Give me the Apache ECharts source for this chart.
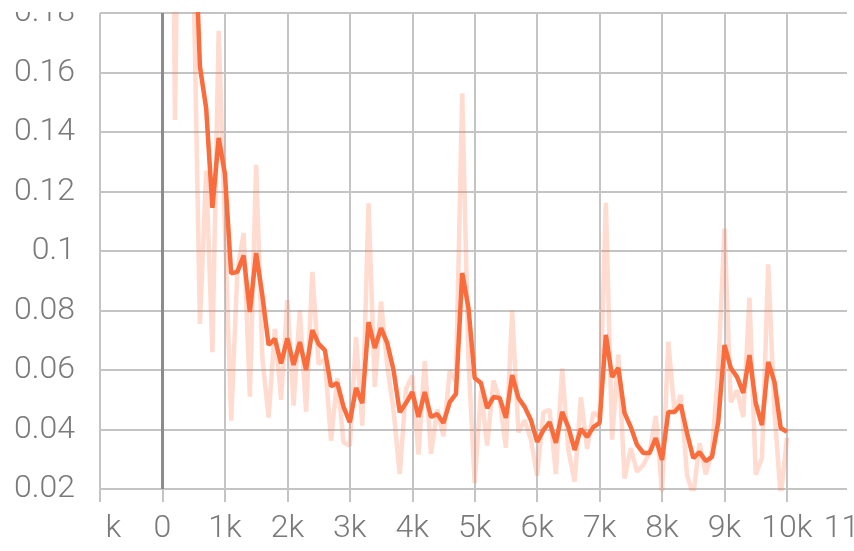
<!DOCTYPE html>
<html>
<head>
<meta charset="utf-8">
<style>
  html, body { margin: 0; padding: 0; background: #ffffff; }
  #chart { width: 854px; height: 551px; }
</style>
<script src="https://cdn.jsdelivr.net/npm/echarts@6/dist/echarts.min.js"></script>
</head>
<body>
<div id="chart"></div>
<script>
// Training steps (one point every 100 steps)
const steps = [
  100, 200, 300, 400, 500, 600, 700, 800, 900, 1000,
  1100, 1200, 1300, 1400, 1500, 1600, 1700, 1800, 1900, 2000,
  2100, 2200, 2300, 2400, 2500, 2600, 2700, 2800, 2900, 3000,
  3100, 3200, 3300, 3400, 3500, 3600, 3700, 3800, 3900, 4000,
  4100, 4200, 4300, 4400, 4500, 4600, 4700, 4800, 4900, 5000,
  5100, 5200, 5300, 5400, 5500, 5600, 5700, 5800, 5900, 6000,
  6100, 6200, 6300, 6400, 6500, 6600, 6700, 6800, 6900, 7000,
  7100, 7200, 7300, 7400, 7500, 7600, 7700, 7800, 7900, 8000,
  8100, 8200, 8300, 8400, 8500, 8600, 8700, 8800, 8900, 9000,
  9100, 9200, 9300, 9400, 9500, 9600, 9700, 9800, 9900, 10000
];

// Raw loss values (drawn faint)
const rawLoss = [
  0.42, 0.144, 0.30, 0.26, 0.19, 0.0755, 0.127, 0.066, 0.174, 0.108,
  0.043, 0.0935, 0.106, 0.051, 0.129, 0.064, 0.044, 0.0738, 0.050, 0.0835,
  0.048, 0.080, 0.046, 0.093, 0.062, 0.0636, 0.0362, 0.0572, 0.0356, 0.0346,
  0.071, 0.0413, 0.116, 0.0543, 0.083, 0.0613, 0.0465, 0.025, 0.0536, 0.058,
  0.0316, 0.063, 0.0318, 0.0467, 0.0377, 0.0597, 0.0562, 0.153, 0.0634, 0.022,
  0.053, 0.0346, 0.0565, 0.0501, 0.0339, 0.080, 0.039, 0.0431, 0.0366, 0.0245,
  0.0458, 0.0466, 0.025, 0.0605, 0.0331, 0.0225, 0.0508, 0.0335, 0.0457, 0.0443,
  0.1162, 0.0366, 0.0652, 0.0235, 0.0337, 0.0258, 0.0281, 0.0321, 0.0446, 0.0188,
  0.0695, 0.0459, 0.0516, 0.0247, 0.0178, 0.0354, 0.0249, 0.0329, 0.0601, 0.1075,
  0.0492, 0.0532, 0.0442, 0.0843, 0.0248, 0.0304, 0.0955, 0.046, 0.0173, 0.0372
];

// Smoothed loss values (bold line)
const smoothLoss = [
  0.42, 0.31, 0.29, 0.26, 0.22, 0.162, 0.148, 0.1145, 0.138, 0.126,
  0.0925, 0.093, 0.0985, 0.0795, 0.0993, 0.085, 0.0684, 0.0705, 0.0622, 0.0707,
  0.0617, 0.0694, 0.060, 0.0734, 0.0688, 0.0667, 0.0545, 0.0556, 0.0476, 0.0424,
  0.054, 0.0489, 0.0761, 0.0674, 0.0741, 0.069, 0.060, 0.0458, 0.0489, 0.0526,
  0.0442, 0.0526, 0.0442, 0.0452, 0.0422, 0.0492, 0.052, 0.0926, 0.0809, 0.0573,
  0.0556, 0.0472, 0.0509, 0.0506, 0.0439, 0.0583, 0.0506, 0.0476, 0.0432, 0.0358,
  0.0398, 0.0425, 0.0355, 0.0459, 0.0408, 0.0331, 0.0402, 0.0375, 0.0408, 0.0422,
  0.0718, 0.0577, 0.0607, 0.0455, 0.0408, 0.0348, 0.0321, 0.0321, 0.0371, 0.0298,
  0.0459, 0.0459, 0.0482, 0.0388, 0.0304, 0.0324, 0.0294, 0.0308, 0.0425, 0.0684,
  0.0607, 0.0577, 0.0523, 0.065, 0.0489, 0.0415, 0.0627, 0.056, 0.0405, 0.0392
];

const gridColor = '#c4c4c4';
const labelFont = { color: '#7a7a7a', fontFamily: 'Roboto, sans-serif', fontWeight: 300, fontSize: 32 };

const chart = echarts.init(document.getElementById('chart'), null, { renderer: 'canvas' });

chart.setOption({
  animation: false,
  backgroundColor: '#ffffff',
  grid: { left: 100, right: 4.6, top: 13, bottom: 62, containLabel: false, outerBoundsMode: 'none' },
  xAxis: {
    type: 'value',
    min: -1000,
    max: 11000,
    interval: 1000,
    axisLine: { show: false },
    axisTick: { show: true, length: 13, lineStyle: { color: gridColor, width: 2 } },
    splitLine: { show: true, lineStyle: { color: gridColor, width: 2 } },
    axisLabel: Object.assign({
      margin: 24,
      hideOverlap: false,
      showMinLabel: true,
      showMaxLabel: true,
      formatter: v => v === 0 ? '0' : (v / 1000) + 'k'
    }, labelFont)
  },
  yAxis: {
    type: 'value',
    min: 0.02,
    max: 0.18,
    interval: 0.02,
    axisLine: { show: false },
    axisTick: { show: true, length: 12, lineStyle: { color: gridColor, width: 2 } },
    splitLine: { show: true, lineStyle: { color: gridColor, width: 2 } },
    axisLabel: Object.assign({
      margin: 25,
      formatter: v => String(+v.toFixed(2))
    }, labelFont)
  },
  series: [
    {
      name: 'raw',
      type: 'line',
      data: steps.map((s, i) => [s, rawLoss[i]]),
      showSymbol: false,
      clip: true,
      lineStyle: { color: 'rgba(255,112,67,0.25)', width: 4.5 },
      z: 2,
      markLine: {
        silent: true,
        symbol: 'none',
        label: { show: false },
        lineStyle: { color: '#8c8c8c', width: 3, type: 'solid' },
        data: [{ xAxis: 0 }]
      }
    },
    {
      name: 'smoothed',
      type: 'line',
      data: steps.map((s, i) => [s, smoothLoss[i]]),
      showSymbol: false,
      clip: true,
      lineStyle: { color: '#fa6c3c', width: 4.5 },
      z: 3
    }
  ],
  graphic: [
    { type: 'rect', z: 100, shape: { x: 0, y: 0, width: 854, height: 12 }, style: { fill: '#ffffff' } },
    { type: 'rect', z: 100, shape: { x: 0, y: 503, width: 106, height: 48 }, style: { fill: '#ffffff' } },
    { type: 'rect', z: 100, shape: { x: 847, y: 0, width: 7, height: 503 }, style: { fill: '#ffffff' } }
  ]
});
</script>
</body>
</html>
